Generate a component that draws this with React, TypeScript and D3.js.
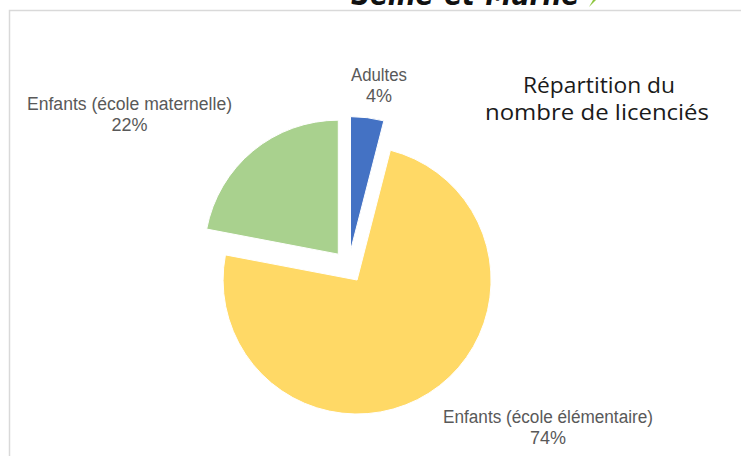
import React from "react";
import * as d3 from "d3";

const categories = ["Adultes", "Enfants (école élémentaire)", "Enfants (école maternelle)"];
const values = [4, 74, 22];
const colors = ["#4472C4", "#FFD966", "#A9D18E"];
const titleLines = ["Répartition du", "nombre de licenciés"];

const W = 741;
const H = 456;
const cx = 348.5;
const cy = 266.5;
const R = 134;
const explode = 16;

// label layout: [centerX, baselineY line1, text width]
const labelPos: [number, number, number][] = [
  [379, 81, 56],
  [548, 423, 210],
  [129.5, 110, 205],
];

export default function App() {
  const pie = d3.pie<number>().sort(null).value((d) => d).startAngle(0).endAngle(2 * Math.PI);
  const arcs = pie(values);
  const arcGen = d3.arc<d3.PieArcDatum<number>>().innerRadius(0).outerRadius(R);
  const total = d3.sum(values);

  return (
    <svg
      width={W}
      height={H}
      style={{ position: "fixed", left: 0, top: 0, background: "#fff" }}
    >
      <rect x={0} y={0} width={W} height={H} fill="#fff" />
      {/* cut-off header logo text */}
      <text
        x={465}
        y={5}
        textAnchor="middle"
        fontFamily="DejaVu Sans"
        fontWeight="bold"
        fontStyle="italic"
        fontSize={30}
        fill="#111"
        textLength={228}
        lengthAdjust="spacingAndGlyphs"
      >
        Seine-et-Marne
      </text>
      <path d="M589,7 L593,0 L596,0 Z" fill="#8DC63F" />
      {/* chart border */}
      <path d={`M9.5,${H} V10.5 H${W}`} fill="none" stroke="#D9D9D9" strokeWidth={1.5} />

      {arcs.map((a, i) => {
        const mid = (a.startAngle + a.endAngle) / 2;
        const dx = Math.sin(mid) * explode;
        const dy = -Math.cos(mid) * explode;
        return (
          <path
            key={i}
            d={arcGen(a) || ""}
            transform={`translate(${cx + dx},${cy + dy})`}
            fill={colors[i]}
            stroke="#fff"
            strokeWidth={1}
          />
        );
      })}

      {arcs.map((a, i) => {
        const [x, y, w] = labelPos[i];
        const pct = Math.round((a.value / total) * 100) + "%";
        return (
          <g key={"l" + i} fontFamily="Liberation Sans, Arial, sans-serif" fontSize={18} fill="#595959" textAnchor="middle">
            <text x={x} y={y} textLength={w} lengthAdjust="spacingAndGlyphs">
              {categories[i]}
            </text>
            <text x={x} y={y + 21}>{pct}</text>
          </g>
        );
      })}

      <g fontFamily="Open Sans, sans-serif" fontSize={21} fill="#1a1a1a" textAnchor="middle">
        <text x={599} y={93} textLength={152} lengthAdjust="spacingAndGlyphs">{titleLines[0]}</text>
        <text x={597} y={120} textLength={224} lengthAdjust="spacingAndGlyphs">{titleLines[1]}</text>
      </g>
    </svg>
  );
}
